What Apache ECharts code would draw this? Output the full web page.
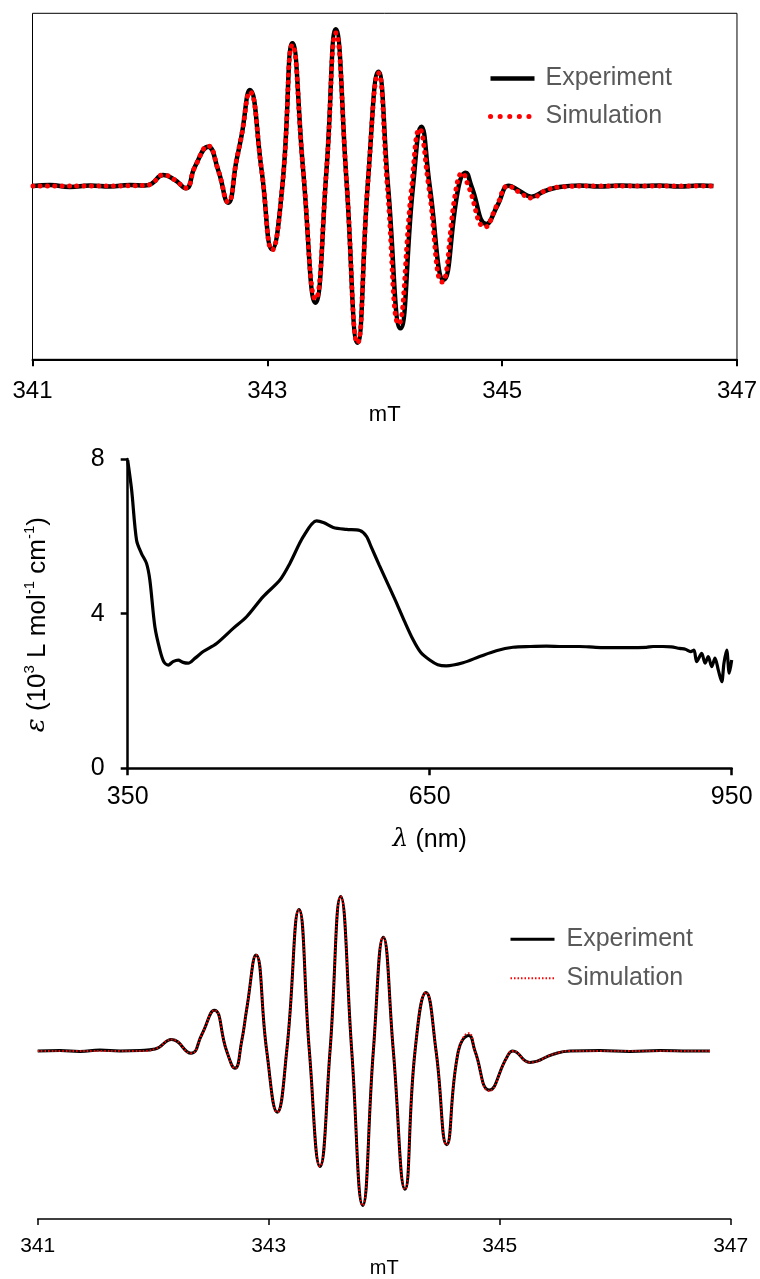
<!DOCTYPE html>
<html><head><meta charset="utf-8">
<script src="https://cdn.jsdelivr.net/npm/echarts@6/dist/echarts.min.js"></script>
<style>html,body{margin:0;padding:0;background:#fff}#c{width:760px;height:1279px}</style>
</head><body><div id="c"></div><script>
// ---- Top EPR spectrum (mT, arbitrary units) ----
const topExpField = [341.004,341.149,341.319,341.489,341.660,341.830,341.957,342.017,342.113,342.213,342.306,342.383,342.496,342.581,342.666,342.738,342.780,342.851,342.951,343.041,343.128,343.214,343.305,343.410,343.504,343.583,343.674,343.768,343.858,343.946,344.028,344.134,344.241,344.312,344.383,344.502,344.630,344.689,344.738,344.866,344.962,345.058,345.149,345.249,345.362,345.489,345.660,345.830,346.000,346.170,346.340,346.511,346.681,346.800];
const topExp = [0,1,-1,0.5,-0.5,1,0.5,2.5,11,6,-2.3,19.3,39.3,16,-16.7,26,50,96,16,-63.3,0,142.7,16,-116.7,16,156.7,6,-156.7,6,114.3,0,-142.3,0,59.3,0,-94,0,13.3,0,-38,-19,0.3,-5,-10.7,-5,-1,0.5,-0.5,0.5,0,0.5,-0.5,0.5,0];
const topSimField = [341.004,341.5,341.957,342.017,342.113,342.213,342.306,342.383,342.496,342.581,342.666,342.738,342.780,342.851,342.951,343.041,343.128,343.214,343.305,343.410,343.504,343.583,343.674,343.768,343.858,343.946,344.022,344.118,344.230,344.296,344.374,344.488,344.612,344.660,344.712,344.855,344.957,345.052,345.143,345.249,345.362,345.489,345.8,346.2,346.800];
const topSim = [0,0,0.5,2.5,11,6,-2,19,40,16,-16,26,50,94,16,-64,0,141,16,-113,16,153,6,-157,6,113,0,-138,0,57,0,-96,0,13,0,-41,-19,0,-6,-12,-5,-1,0,0,0];

// ---- UV-vis spectrum ----
const uvWavelength = [350,353.9,358.8,363.6,368.7,372,377,382,386,390.3,395,400.2,405,410.1,417,425,438.3,454.8,468.1,484.6,501.2,511.1,524.4,537.6,545,554.2,567.4,580.6,587.2,592,600,610,617,625,633.4,641,650,658,666.5,683.1,699.6,716.2,732.7,750,765.9,782,798.7,815,832,848,865.1,872,881.7,890,898.2,904,909.2,912.5,915.2,920.2,923.5,926.7,930.1,933.4,936.7,940.1,942.3,945,947.6,950];
const uvEpsilon = [7.97,7.2,5.9,5.56,5.3,4.87,3.66,3.06,2.75,2.67,2.76,2.80,2.74,2.72,2.85,3.02,3.23,3.62,3.92,4.44,4.87,5.30,5.99,6.40,6.35,6.23,6.18,6.15,6.0,5.72,5.25,4.68,4.28,3.8,3.33,3.0,2.80,2.68,2.65,2.73,2.89,3.04,3.13,3.15,3.16,3.15,3.15,3.13,3.12,3.12,3.13,3.15,3.15,3.14,3.10,3.08,3.02,3.06,2.76,2.97,2.72,2.89,2.63,2.85,2.54,2.24,2.72,3.06,2.46,2.80];

// ---- Bottom EPR spectrum ----
const botField = [341.000,341.193,341.366,341.539,341.713,341.886,342.016,342.160,342.327,342.420,342.529,342.636,342.708,342.766,342.810,342.890,342.983,343.074,343.156,343.262,343.352,343.444,343.531,343.623,343.719,343.814,343.906,343.992,344.079,344.180,344.267,344.362,344.449,344.541,344.642,344.734,344.786,344.910,345.061,345.113,345.262,345.464,345.609,345.868,346.128,346.388,346.648,346.821];
const botExp = [0,0.5,-0.5,1,0,0.5,2,11.7,-2.3,16.7,41.7,0,-17.7,10,43.3,98.3,0,-62.7,0,145,0,-118.3,0,158.3,0,-158.3,0,116.7,0,-141.7,0,60,0,-96,0,16,0,-40,-6.7,0,-11.7,-3.3,0,0.5,-0.5,0.5,0,0];
const botSim = [0,0,0,0,0,0,2,11.7,-2.3,16.7,41.7,0,-17.7,10,43.3,98.3,0,-62.7,0,145,0,-118.3,0,158.3,0,-158.3,0,116.7,0,-141.7,0,60,0,-96,0,18.3,0,-41,-6.7,0,-11.7,-3.3,0,0,0,0,0,0];

// ---- Axis ticks ----
const eprTicks = [341,343,345,347];
const uvXTicks = [350,650,950];
const uvYTicks = [0,4,8];

const zip = (a,b) => a.map((v,i)=>[v,b[i]]);
const FONT = 'Liberation Sans, Arial, sans-serif';
const step = t => t[1]-t[0];

const chart = echarts.init(document.getElementById('c'), null, {renderer:'canvas'});
chart.setOption({
  animation: false,
  backgroundColor: '#fff',
  textStyle: {fontFamily: FONT},
  grid: [
    {left: 32.5, top: 13.3, width: 705, height: 346, show: true, borderColor: '#000', borderWidth: 1},
    {left: 127.7, top: 459, width: 604, height: 309.3},
    {left: 37.7, top: 890, width: 693, height: 337.3}
  ],
  xAxis: [
    {gridIndex:0, type:'value', min:eprTicks[0], max:eprTicks[eprTicks.length-1], interval:step(eprTicks),
     axisLine:{onZero:false, lineStyle:{color:'#000', width:2}}, axisTick:{length:7, lineStyle:{color:'#000', width:2}},
     axisLabel:{fontSize:24, color:'#000', margin:20, fontFamily:FONT}, splitLine:{show:false},
     name:'mT', nameLocation:'middle', nameGap:31, nameTextStyle:{fontSize:22, color:'#000', fontFamily:FONT}},
    {gridIndex:1, type:'value', min:uvXTicks[0], max:uvXTicks[uvXTicks.length-1], interval:step(uvXTicks),
     axisLine:{onZero:false, lineStyle:{color:'#000', width:2.5}}, axisTick:{length:7, lineStyle:{color:'#000', width:2.5}},
     axisLabel:{fontSize:25, color:'#000', margin:16, fontFamily:FONT}, splitLine:{show:false},
     name:'{it|λ}{t| (nm)}', nameLocation:'middle', nameGap:59,
     nameTextStyle:{rich:{it:{fontSize:25, fontStyle:'italic', fontFamily:'DejaVu Serif', color:'#000'}, t:{fontSize:25, color:'#000', fontFamily:FONT}}}},
    {gridIndex:2, type:'value', min:eprTicks[0], max:eprTicks[eprTicks.length-1], interval:step(eprTicks),
     axisLine:{onZero:false, lineStyle:{color:'#000', width:1.5}}, axisTick:{length:6, lineStyle:{color:'#000', width:1.5}},
     axisLabel:{fontSize:21, color:'#000', margin:17, fontFamily:FONT}, splitLine:{show:false},
     name:'mT', nameLocation:'middle', nameGap:31, nameTextStyle:{fontSize:20, color:'#000', fontFamily:FONT}}
  ],
  yAxis: [
    {gridIndex:0, type:'value', min:-173.3, max:172.7, show:false},
    {gridIndex:1, type:'value', min:uvYTicks[0], max:uvYTicks[uvYTicks.length-1], interval:step(uvYTicks),
     axisLine:{show:true, onZero:false, lineStyle:{color:'#000', width:2.5}}, axisTick:{show:true, length:7, lineStyle:{color:'#000', width:2.5}},
     axisLabel:{fontSize:25, color:'#000', margin:23, fontFamily:FONT}, splitLine:{show:false},
     name:'{it|ε}{t| (10}{s|3}{t| L mol}{s|-1}{t| cm}{s|-1}{t|)}', nameLocation:'middle', nameGap:75,
     nameTextStyle:{padding:[0,22,0,0], rich:{
       it:{fontSize:26, fontStyle:'italic', fontFamily:'DejaVu Serif', color:'#000', lineHeight:30},
       t:{fontSize:26, color:'#000', fontFamily:FONT, lineHeight:30},
       s:{fontSize:15, color:'#000', fontFamily:FONT, verticalAlign:'top', lineHeight:30}}}},
    {gridIndex:2, type:'value', min:-172.3, max:165, show:false}
  ],
  legend: [
    {data:[{name:'Experiment', lineStyle:{width:4.5, color:'#000'}},
           {name:'Simulation', lineStyle:{width:5, color:'#ff0000', type:[0.1,9.5], cap:'round'}}],
     orient:'vertical', left:488, top:66, padding:0, itemWidth:44, itemHeight:14, itemGap:13,
     selectedMode:false, itemStyle:{opacity:0, borderWidth:0},
     textStyle:{fontSize:25, color:'#595959', fontFamily:FONT, lineHeight:25, padding:[0,0,0,6]}},
    {data:[{name:'Experiment2', lineStyle:{width:3, color:'#000'}},
           {name:'Simulation2', lineStyle:{width:2, color:'#ff0000', type:[1.5,2]}}],
     orient:'vertical', left:509, top:926.8, padding:0, itemWidth:44, itemHeight:14, itemGap:14,
     selectedMode:false, itemStyle:{opacity:0, borderWidth:0}, formatter: n => n.replace(/2$/,''),
     textStyle:{fontSize:25, color:'#595959', fontFamily:FONT, lineHeight:25, padding:[0,0,0,7]}}
  ],
  series: [
    {name:'Experiment', type:'line', xAxisIndex:0, yAxisIndex:0, data:zip(topExpField, topExp), smooth:0.5,
     symbol:'none', silent:true, lineStyle:{color:'#000', width:4.5}, itemStyle:{color:'#000'}},
    {name:'Simulation', type:'line', xAxisIndex:0, yAxisIndex:0, data:zip(topSimField, topSim), smooth:0.5,
     symbol:'none', silent:true, lineStyle:{color:'#ff0000', width:5, type:[0.1,7.2], cap:'round'}, itemStyle:{color:'#ff0000'}},
    {name:'uv', type:'line', xAxisIndex:1, yAxisIndex:1, data:zip(uvWavelength, uvEpsilon), smooth:0.3,
     symbol:'none', silent:true, lineStyle:{color:'#000', width:3.2}},
    {name:'Experiment2', type:'line', xAxisIndex:2, yAxisIndex:2, data:zip(botField, botExp), smooth:0.5,
     symbol:'none', silent:true, lineStyle:{color:'#000', width:3}, itemStyle:{color:'#000'}},
    {name:'Simulation2', type:'line', xAxisIndex:2, yAxisIndex:2, data:zip(botField, botSim), smooth:0.5,
     symbol:'none', silent:true, lineStyle:{color:'#ff0000', width:2, type:[1.5,2]}, itemStyle:{color:'#ff0000'}}
  ]
});
</script></body></html>
